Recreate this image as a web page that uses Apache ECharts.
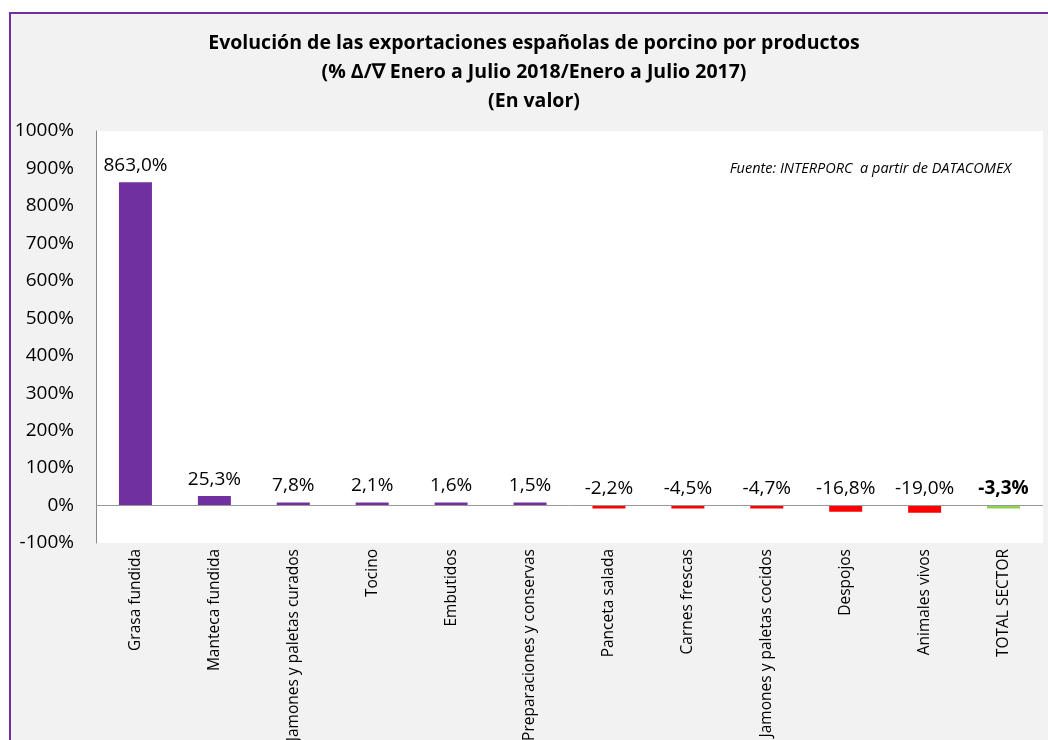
<!DOCTYPE html>
<html>
<head>
<meta charset="utf-8">
<script src="https://cdn.jsdelivr.net/npm/echarts@6/dist/echarts.min.js"></script>
<style>
html,body{margin:0;padding:0;background:#fff;}
#c{width:1048px;height:740px;}
</style>
</head>
<body>
<div id="c"></div>
<script>
const categories = ['Grasa fundida','Manteca fundida','Jamones y paletas curados','Tocino','Embutidos','Preparaciones y conservas','Panceta salada','Carnes frescas','Jamones y paletas cocidos','Despojos','Animales vivos','TOTAL SECTOR'];
const values = [863.0, 25.3, 7.8, 2.1, 1.6, 1.5, -2.2, -4.5, -4.7, -16.8, -19.0, -3.3];
const yTicks = {min: -100, max: 1000, interval: 100};
const titleLines = ['Evolución de las exportaciones españolas de porcino por productos','(% Δ/∇ Enero a Julio 2018/Enero a Julio 2017)','(En valor)'];
const sourceText = 'Fuente: INTERPORC  a partir de DATACOMEX';

const FONT = '"Open Sans", "Noto Sans", sans-serif';
const fmt = v => v.toFixed(1).replace('.', ',') + '%';

const data = values.map((v, i) => {
  const isTotal = i === categories.length - 1;
  return {
    value: v,
    itemStyle: {color: isTotal ? '#92D050' : (v >= 0 ? '#7030A0' : '#FF0000')},
    label: isTotal ? {fontWeight: 'bold'} : undefined
  };
});

const chart = echarts.init(document.getElementById('c'));
chart.setOption({
  backgroundColor: 'transparent',
  animation: false,
  graphic: [
    {type: 'rect', z: -10, shape: {x: 10, y: 13, width: 1200, height: 900},
     style: {fill: '#F2F2F2', stroke: '#7030A0', lineWidth: 2}},
    {type: 'text', x: 534, y: 29, z: 10,
     style: {text: titleLines.join('\n'), font: 'bold 19.5px ' + FONT, fill: '#000', align: 'center', lineHeight: 29}},
    {type: 'text', right: 37, top: 161, z: 10,
     style: {text: sourceText, font: 'italic 14.5px ' + FONT, fill: '#000'}}
  ],
  grid: {left: 96, right: 5, top: 131, bottom: 197, outerBoundsMode: 'none', containLabel: false,
         show: true, backgroundColor: '#fff', borderWidth: 0},
  xAxis: {
    type: 'category', data: categories,
    axisLine: {show: false, onZero: false}, axisTick: {show: false},
    axisLabel: {rotate: 90, interval: 0, margin: 6, fontSize: 15.5, color: '#000', fontFamily: FONT}
  },
  yAxis: {
    type: 'value', min: yTicks.min, max: yTicks.max, interval: yTicks.interval,
    axisLine: {show: true, lineStyle: {color: '#888', width: 1}},
    axisTick: {show: false}, splitLine: {show: false},
    axisLabel: {formatter: v => v + '%', fontSize: 19, color: '#000', fontFamily: FONT, margin: 22}
  },
  series: [{
    type: 'bar', data: data, barWidth: 33, barMinHeight: 3,
    label: {show: true, position: 'top', distance: 7, fontSize: 19, color: '#000', fontFamily: FONT,
      formatter: p => fmt(p.value)},
    markLine: {silent: true, symbol: 'none', label: {show: false},
      lineStyle: {color: '#999', width: 1, type: 'solid'}, data: [{yAxis: 0}]}
  }]
});
</script>
</body>
</html>
